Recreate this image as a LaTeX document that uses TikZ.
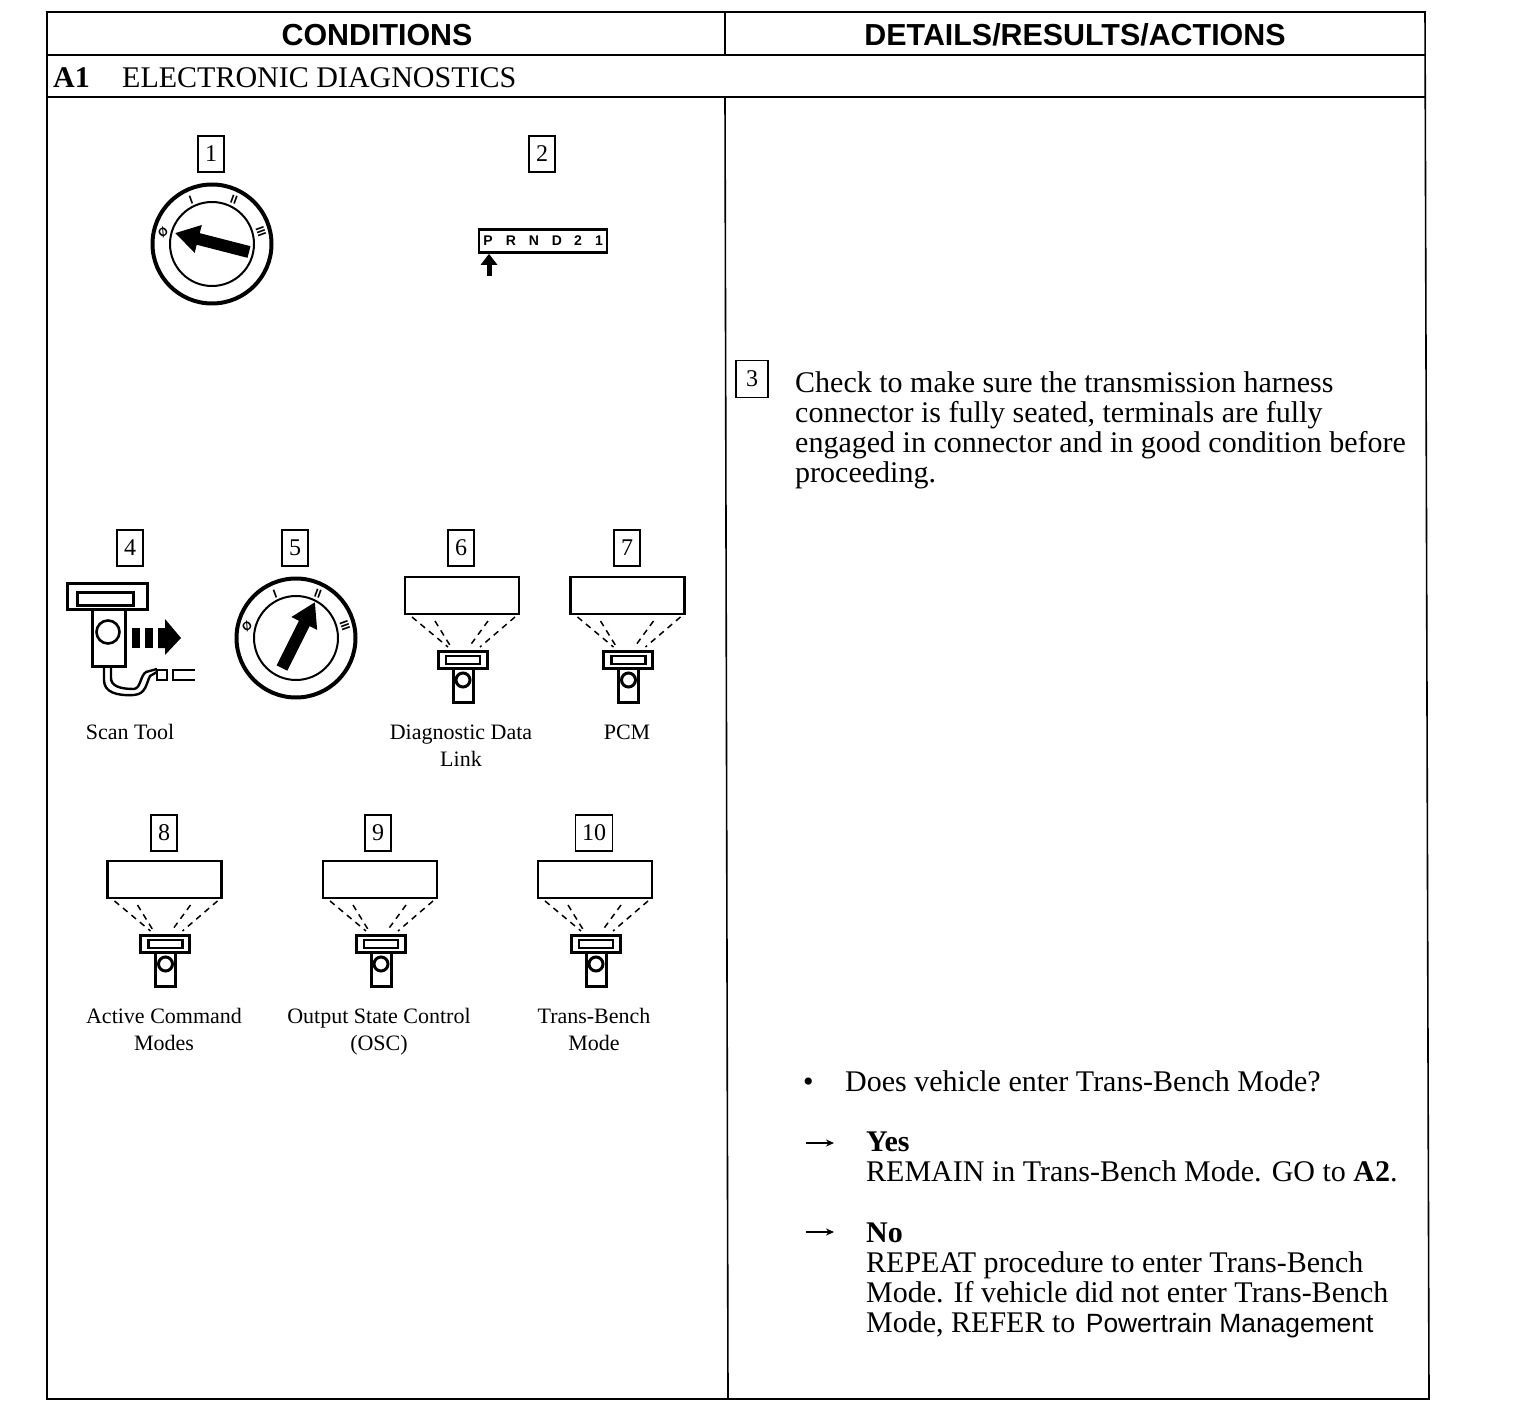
\documentclass[tikz,border=0pt]{standalone}
\usepackage{fontspec}
\setmainfont{Liberation Serif}
\newfontfamily\headfont{Liberation Sans}
\usetikzlibrary{arrows.meta,positioning}

\begin{document}
\begin{tikzpicture}[x=1pt, y=-1pt,
    frameline/.style={line width=1.6pt},
    numbox/.style={draw, line width=1.6pt, minimum width=26pt, minimum height=36pt, inner sep=0pt, font=\fontsize{24}{24}\selectfont},
    headtext/.style={anchor=base, inner sep=0pt, font=\headfont\bfseries\fontsize{30.4}{30}\selectfont},
    bodytext/.style={anchor=base west, inner sep=0pt, align=left, font=\fontsize{30}{30}\selectfont},
    caption/.style={anchor=base, inner sep=0pt, align=center, font=\fontsize{22}{27}\selectfont},
    dialmark/.style={inner sep=0pt, font=\headfont\bfseries\fontsize{12}{12}\selectfont},
    gearmark/.style={anchor=base, inner sep=0pt, font=\headfont\bfseries\fontsize{14}{14}\selectfont},
    pointer/.style={line width=12pt, -{Triangle[length=24pt,width=27pt]}},
    replyarrow/.style={-{Stealth[length=8pt,width=7pt]}, line width=1.3pt},
    pics/dial/.style={code={
        \draw[line width=4pt] (0,0) circle (59.5);
        \draw[line width=2pt] (0,0) circle (42);
        \node[dialmark, rotate=40] (-zero) at (-49,-12) {Ø};
        \node[dialmark, rotate=20] (-one) at (-21,-44) {I};
        \node[dialmark, rotate=-20] (-two) at (22,-44) {II};
        \node[dialmark, rotate=-70] (-three) at (49,-12) {III};
    }},
    pics/scanview/.style={code={
        \draw[line width=2.8pt] (-57,0) rectangle (57,37);
        \draw[line width=1.5pt, dashed, dash pattern=on 6pt off 5pt] (-50,40) -- (-14,70) (-27,44) -- (-11,70) (26,44) -- (7,70) (53,40) -- (18,70);
        \draw[line width=3pt] (-24,74) rectangle (25,91);
        \draw[line width=2.6pt] (-16,79) rectangle (18,87);
        \draw[line width=3pt] (-9,91) -- (-9,125) -- (11,125) -- (11,91);
        \draw[line width=3pt] (1,103) circle (7);
    }}
]
\useasboundingbox (0,0) rectangle (1520,1412);

% Table frame
\draw[frameline] (47,12) -- (1425,12) -- (1429,1399) -- (47,1399) -- cycle;
\draw[frameline] (47,55) -- (1426,55);
\draw[frameline] (47,97) -- (1426,97);
\draw[frameline] (725,12) -- (725,55);
\draw[frameline] (725,97) -- (728,1399);

% Headings
\node[headtext] (condhead) at (377,46) {CONDITIONS};
\node[headtext] (detailhead) at (1075,46) {DETAILS/RESULTS/ACTIONS};
\node[bodytext] (stepname) at (53,88) {\textbf{A1}};
\node[bodytext] (steptitle) at (122,88) {ELECTRONIC DIAGNOSTICS};

% Key off and selector
\node[numbox] (numA) at (211,154) {1};
\pic (dialA) at (212,244) {dial};
\coordinate (tailA) at (249,252);
\coordinate (tipA) at (175,233);
\draw[pointer] (tailA) -- (tipA);

\node[numbox] (numB) at (542,154) {2};
\node[draw, line width=2.6pt, minimum width=128pt, minimum height=23pt, inner sep=0pt] (gearbar) at (543,241) {};
\node[gearmark] (gearP) at (488,246) {P};
\node[gearmark] (gearR) at (511,246) {R};
\node[gearmark] (gearN) at (534,246) {N};
\node[gearmark] (gearD) at (557,246) {D};
\node[gearmark] (gearT) at (578,246) {2};
\node[gearmark] (gearO) at (599,246) {1};
\coordinate (geartail) at (489,276);
\draw[line width=5pt, -{Triangle[length=11pt,width=16pt]}] (geartail) -- (gearbar.south -| geartail);

% Step 3 text
\node[numbox, minimum width=32pt, minimum height=37pt] (numC) at (752,379) {3};
\node[bodytext] (checktext) at (795,482) {Check to make sure the transmission harness\\connector is fully seated, terminals are fully\\engaged in connector and in good condition before\\proceeding.};

% Scan tool
\node[numbox] (numD) at (130,548) {4};
\draw[line width=3pt] (67,583) rectangle (147,609);
\draw[line width=3pt] (77,592) rectangle (133,605);
\draw[line width=3pt] (92,609) -- (92,666) -- (125,666) -- (125,609);
\draw[line width=2.6pt] (108,632) circle (11.5);
\fill (132,628) rectangle (140,648);
\fill (145,628) rectangle (153,648);
\fill (158,628) -- (165,628) -- (165,619) -- (181,638) -- (165,655) -- (165,648) -- (158,648) -- cycle;
\draw[line width=2.4pt] (104,666) -- (104,680) .. controls (104,692) and (116,696) .. (134,695) .. controls (146,694) and (146,684) .. (150,676) -- (157,672);
\draw[line width=2.4pt] (111,666) -- (111,678) .. controls (111,686) and (120,689) .. (134,689) .. controls (141,688) and (140,676) .. (146,672) -- (157,669);
\draw[line width=2.4pt] (157,670) rectangle (167,680);
\draw[line width=2.4pt] (195,670) -- (173,670) -- (173,680) -- (195,680);
\node[caption] (scanlabel) at (130,739) {Scan Tool};

% Key on
\node[numbox] (numE) at (295,548) {5};
\pic (dialB) at (296,638) {dial};
\coordinate (tailB) at (282,668);
\coordinate (tipB) at (315,602);
\draw[pointer] (tailB) -- (tipB);

% Scan tool menus
\node[numbox] (numF) at (461,548) {6};
\pic (viewA) at (462,577) {scanview};
\node[caption] (linklabel) at (461,766) {Diagnostic Data\\Link};

\node[numbox] (numG) at (627,548) {7};
\pic (viewB) at (627.5,577) {scanview};
\node[caption] (pcmlabel) at (627,739) {PCM};

\node[numbox] (numH) at (164,833) {8};
\pic (viewC) at (164.5,861) {scanview};
\node[caption] (activelabel) at (164,1050) {Active Command\\Modes};

\node[numbox] (numI) at (378,833) {9};
\pic (viewD) at (380,861) {scanview};
\node[caption] (osclabel) at (379,1050) {Output State Control\\(OSC)};

\node[numbox, minimum width=37pt] (numJ) at (594,833) {10};
\pic (viewE) at (595,861) {scanview};
\node[caption] (benchlabel) at (594,1050) {Trans-Bench\\Mode};

% Question and answers
\node[bodytext] (dot) at (803,1091) {•};
\node[bodytext] (question) at (845,1091) {Does vehicle enter Trans-Bench Mode?};

\coordinate (yesfrom) at (806,1143);
\node[bodytext] (yestext) at (866,1181) {\textbf{Yes}\\REMAIN in Trans-Bench Mode. GO to \textbf{A2}.};
\coordinate (yesto) at (834,1143);
\draw[replyarrow] (yesfrom) -- (yesto);

\coordinate (nofrom) at (806,1232);
\node[bodytext] (notext) at (866,1332) {\textbf{No}\\REPEAT procedure to enter Trans-Bench\\Mode. If vehicle did not enter Trans-Bench\\Mode, REFER to \hspace{3pt}{\headfont\fontsize{26.4}{30}\selectfont Powertrain Management}};
\coordinate (noto) at (834,1232);
\draw[replyarrow] (nofrom) -- (noto);

\end{tikzpicture}
\end{document}
